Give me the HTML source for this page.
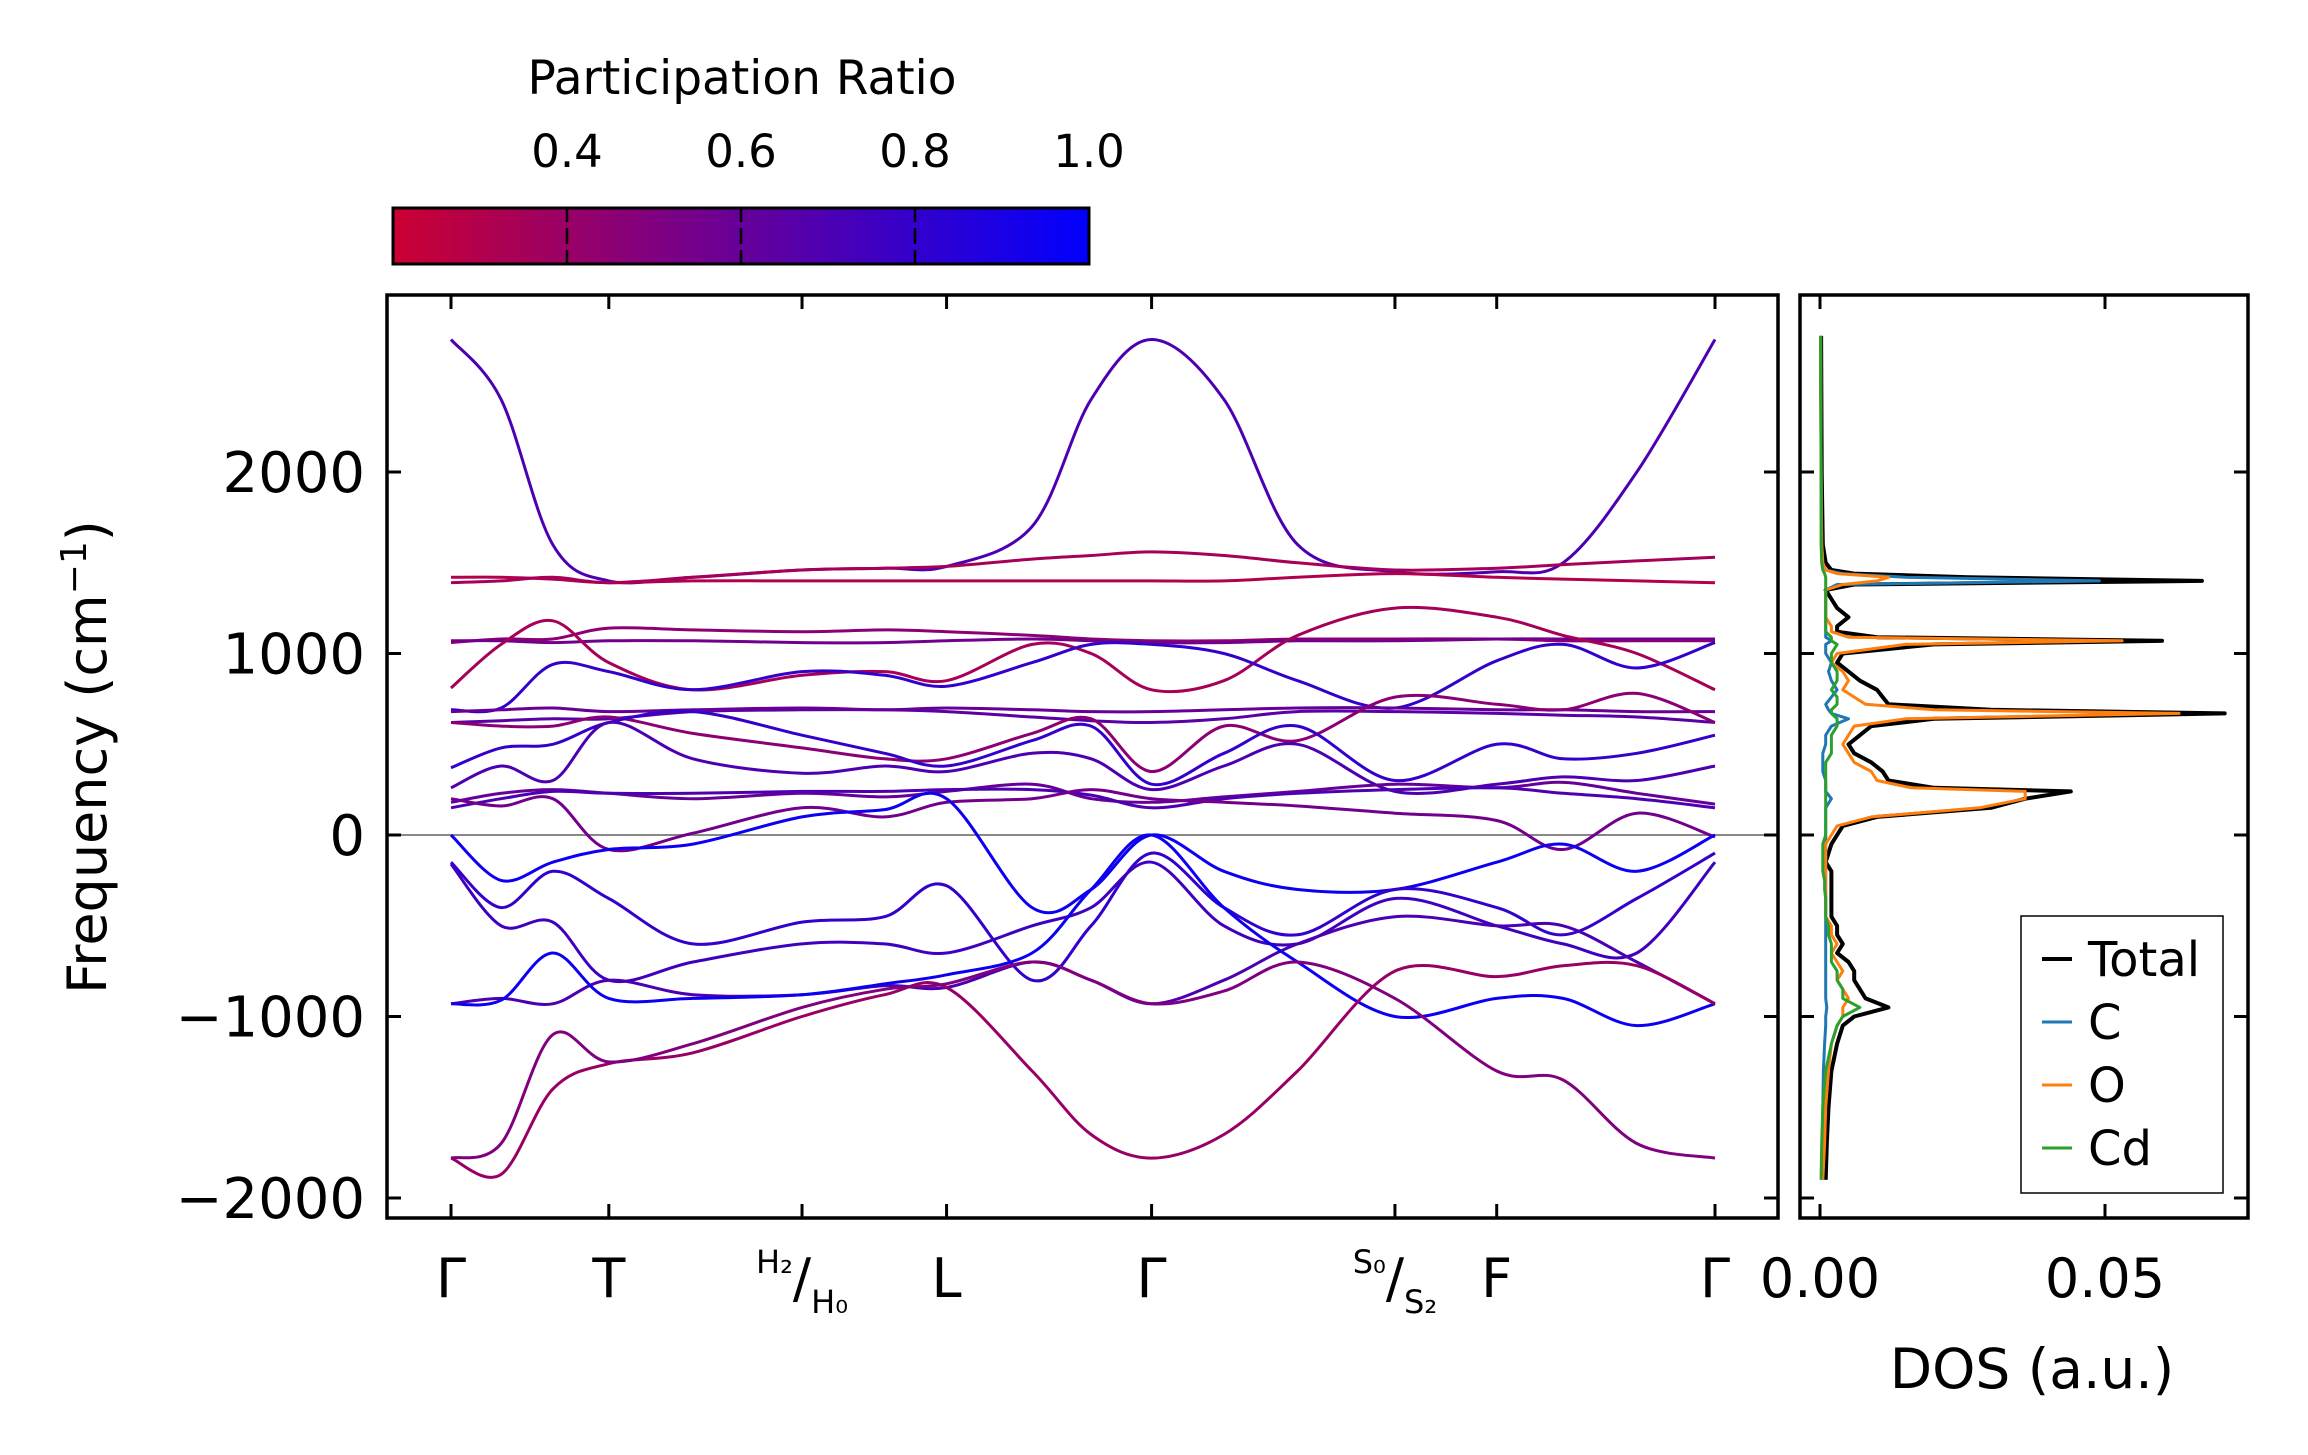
<!DOCTYPE html>
<html><head><meta charset="utf-8">
<style>
html,body{margin:0;padding:0;background:#fff;}
svg{display:block;font-family:"DejaVu Sans","Liberation Sans",sans-serif;}
</style></head>
<body>
<svg id="fig" width="2308" height="1455" viewBox="0 0 2308 1455" xmlns="http://www.w3.org/2000/svg">
<defs>
<linearGradient id="cbgrad" x1="0" x2="1" y1="0" y2="0">
<stop offset="0" stop-color="rgb(204,0,51)"/>
<stop offset="1" stop-color="rgb(0,0,255)"/>
</linearGradient>
<clipPath id="mainclip"><rect x="387" y="295" width="1391" height="923"/></clipPath>
<clipPath id="dosclip"><rect x="1800" y="295" width="448" height="923"/></clipPath>
</defs>
<g id="colorbar">
<text x="742" y="94" font-size="47" text-anchor="middle">Participation Ratio</text>
<rect x="393" y="208" width="696" height="56" fill="url(#cbgrad)" stroke="#000" stroke-width="3"/>
</g>
<g id="bands" clip-path="url(#mainclip)"></g>
<g id="dos" clip-path="url(#dosclip)"></g>
<g id="axes"></g>
<text transform="translate(106,757) rotate(-90)" font-size="54" text-anchor="middle">Frequency (cm<tspan font-size="36" dy="-20">−1</tspan><tspan dy="20">)</tspan></text>
<text x="2032" y="1388" font-size="55" text-anchor="middle">DOS (a.u.)</text>
<g id="legend">
<rect x="2021" y="916" width="202" height="277" fill="#fff" stroke="#000" stroke-width="1.5"/>
</g>
</svg>
<script>
// ---- band structure data ----
const kLabels = ["Γ","T","H","L","Γ","S","F","Γ"];
const kPos = [0,3,5,7,10,13,14,17]; // sample-index of high-symmetry points
const kSampleX = [0,34,69,107,164,238,294,336,394,434,475,524,574,640,709,754,804,857]; // path distance (display units)
const yTicks = [-2000,-1000,0,1000,2000];
const bandPR = [0.7,0.3,0.35,0.45,0.55,0.35,0.8,0.65,0.6,0.45,0.8,0.7,0.6,0.7,0.55,0.95,0.8,0.75,0.7,0.95,0.4,0.5];
const band01 = [2730,2400,1600,1400,1420,1460,1470,1480,1700,2400,2730,2400,1600,1450,1450,1500,2000,2730];
const band02 = [1420,1420,1410,1390,1400,1400,1400,1400,1400,1400,1400,1400,1420,1440,1420,1410,1400,1390];
const band03 = [1390,1400,1420,1390,1420,1460,1470,1480,1520,1540,1560,1540,1500,1460,1470,1490,1510,1530];
const band04 = [1060,1080,1080,1140,1130,1120,1130,1120,1100,1080,1070,1070,1080,1080,1080,1070,1070,1070];
const band05 = [1070,1070,1060,1070,1070,1060,1060,1070,1080,1070,1060,1060,1070,1070,1080,1080,1080,1080];
const band06 = [810,1050,1180,950,800,880,900,850,1050,1000,800,850,1100,1250,1200,1100,1000,800];
const band07 = [690,700,940,900,800,900,880,820,950,1050,1050,1000,850,700,960,1050,920,1060];
const band08 = [620,630,640,640,680,690,690,680,650,630,620,640,680,680,670,660,650,620];
const band09 = [680,690,700,680,690,700,690,700,690,680,680,690,700,700,690,690,680,680];
const band10 = [620,600,600,650,560,480,420,420,560,640,350,600,520,760,720,690,780,620];
const band11 = [370,480,500,620,680,550,450,380,520,600,280,450,600,300,500,420,450,550];
const band12 = [260,380,300,620,420,340,380,350,450,420,250,380,500,240,280,320,300,380];
const band13 = [180,230,250,230,200,230,210,240,280,200,180,210,240,280,260,290,230,170];
const band14 = [150,200,240,230,230,240,240,250,250,220,150,200,230,250,260,230,200,150];
const band15 = [200,160,200,-80,10,150,100,180,200,250,200,180,160,120,80,-80,120,-10];
const band16 = [0,-250,-150,-80,-50,100,140,200,-400,-300,0,-200,-300,-300,-150,-50,-200,0];
const band17 = [-150,-400,-200,-350,-600,-480,-450,-280,-800,-500,-100,-400,-550,-300,-400,-550,-350,-100];
const band18 = [-160,-500,-480,-800,-700,-600,-600,-650,-500,-400,-150,-500,-600,-350,-500,-600,-650,-150];
const band19 = [-930,-900,-930,-800,-880,-880,-830,-840,-700,-800,-930,-800,-600,-450,-500,-500,-700,-930];
const band20 = [-930,-910,-650,-900,-900,-880,-820,-770,-650,-300,0,-400,-700,-1000,-900,-900,-1050,-930];
const band21 = [-1780,-1870,-1400,-1260,-1200,-1000,-880,-840,-1300,-1650,-1780,-1650,-1300,-750,-780,-720,-720,-930];
const band22 = [-1780,-1700,-1100,-1250,-1150,-950,-850,-820,-700,-800,-930,-860,-700,-900,-1300,-1350,-1700,-1780];
const bands = [band01,band02,band03,band04,band05,band06,band07,band08,band09,band10,band11,band12,band13,band14,band15,band16,band17,band18,band19,band20,band21,band22];

// ---- DOS data ----
const dosFreq = [-1900,-1700,-1500,-1300,-1150,-1050,-1000,-950,-900,-850,
 -800,-750,-700,-650,-600,-550,-500,-450,-400,-350,
 -300,-250,-200,-150,-100,-50,0,50,100,150,
 200,240,260,300,350,400,450,500,550,600,
 640,670,690,720,760,800,850,900,950,1000,
 1050,1070,1090,1120,1150,1200,1250,1300,1350,1380,
 1400,1420,1440,1460,1500,1600,2000,2750];
const dosTotal = [0.001,0.0012,0.0015,0.002,0.003,0.004,0.006,0.012,0.008,0.007,
 0.006,0.006,0.005,0.003,0.004,0.003,0.003,0.002,0.002,0.002,
 0.002,0.002,0.002,0.001,0.0015,0.002,0.003,0.004,0.01,0.03,
 0.036,0.044,0.02,0.012,0.011,0.009,0.006,0.005,0.007,0.009,
 0.02,0.071,0.03,0.012,0.011,0.010,0.007,0.005,0.003,0.004,
 0.02,0.060,0.01,0.003,0.003,0.005,0.003,0.002,0.001,0.006,
 0.067,0.026,0.006,0.002,0.001,0.0005,0.0003,0.0002];
const dosO = [0.0005,0.0008,0.001,0.0015,0.002,0.003,0.004,0.004,0.005,0.004,
 0.003,0.004,0.003,0.002,0.003,0.002,0.002,0.001,0.001,0.001,
 0.001,0.001,0.001,0.001,0.001,0.001,0.002,0.003,0.009,0.028,
 0.036,0.036,0.016,0.010,0.009,0.006,0.005,0.004,0.005,0.006,
 0.015,0.063,0.02,0.008,0.006,0.004,0.005,0.004,0.002,0.003,
 0.015,0.053,0.005,0.002,0.002,0.001,0.001,0.001,0.001,0.004,
 0.01,0.012,0.003,0.001,0.0005,0.0003,0.0002,0.0001];
const dosC = [0.0003,0.0004,0.0005,0.0006,0.0008,0.001,0.001,0.0012,0.001,0.001,
 0.001,0.001,0.001,0.001,0.001,0.001,0.001,0.001,0.001,0.001,
 0.001,0.001,0.001,0.001,0.001,0.001,0.001,0.001,0.001,0.001,
 0.002,0.001,0.001,0.001,0.0005,0.0005,0.0005,0.001,0.001,0.002,
 0.005,0.002,0.0015,0.001,0.002,0.003,0.002,0.0015,0.002,0.001,
 0.001,0.002,0.001,0.001,0.001,0.001,0.001,0.001,0.001,0.003,
 0.049,0.015,0.004,0.001,0.0005,0.0003,0.0002,0.0001];
const dosCd = [0.0002,0.0003,0.0005,0.001,0.002,0.003,0.004,0.007,0.004,0.004,
 0.003,0.003,0.002,0.002,0.002,0.0015,0.0015,0.001,0.001,0.001,
 0.0008,0.0008,0.0005,0.0005,0.0005,0.0005,0.001,0.001,0.001,0.001,
 0.001,0.001,0.001,0.001,0.001,0.001,0.002,0.002,0.002,0.003,
 0.003,0.002,0.002,0.003,0.003,0.002,0.003,0.003,0.002,0.002,
 0.003,0.002,0.002,0.001,0.001,0.001,0.001,0.001,0.001,0.001,
 0.001,0.001,0.0008,0.0005,0.0003,0.0002,0.0002,0.0001];
const dosTicks = [0.00,0.05];
const cbTicks = [0.4,0.6,0.8,1.0];

const NS = "http://www.w3.org/2000/svg";
function mk(tag, attrs, parent){const e=document.createElementNS(NS,tag);for(const k in attrs)e.setAttribute(k,attrs[k]);parent.appendChild(e);return e;}

// scales
const MX0=387, MX1=1778, PY0=295, PY1=1218, DX0=1800, DX1=2248;
function yScale(f){return 835 - f*0.1815;}
function xScale(d){return 451 + d*(1715-451)/857;}
function dScale(v){return 1820 + v*5700;}
function cbScale(p){return 393 + (p-0.2)/0.8*696;}
function prColor(p){const t=Math.max(0,Math.min(1,(p-0.2)/0.8));return `rgb(${Math.round(204*(1-t))},0,${Math.round(51+204*t)})`;}

function smoothPath(pts){
  let d=`M${pts[0][0].toFixed(1)},${pts[0][1].toFixed(1)}`;
  for(let i=0;i<pts.length-1;i++){
    const p0=pts[Math.max(0,i-1)],p1=pts[i],p2=pts[i+1],p3=pts[Math.min(pts.length-1,i+2)];
    const c1=[p1[0]+(p2[0]-p0[0])/6,p1[1]+(p2[1]-p0[1])/6];
    const c2=[p2[0]-(p3[0]-p1[0])/6,p2[1]-(p3[1]-p1[1])/6];
    d+=`C${c1[0].toFixed(1)},${c1[1].toFixed(1)} ${c2[0].toFixed(1)},${c2[1].toFixed(1)} ${p2[0].toFixed(1)},${p2[1].toFixed(1)}`;
  }
  return d;
}

const gB=document.getElementById('bands');
const zl=mk('line',{x1:MX0,x2:MX1,y1:yScale(0),y2:yScale(0),stroke:'#888','stroke-width':2},gB);


bands.forEach((b,i)=>{
  const pts=b.map((f,j)=>[xScale(kSampleX[j]),yScale(f)]);
  const p=mk('path',{d:smoothPath(pts),fill:'none',stroke:prColor(bandPR[i]),'stroke-width':3},gB);
  
  
});

const gD=document.getElementById('dos');
[[dosTotal,'#000',4,'dos-total'],[dosC,'#1f77b4',3,'dos-c'],[dosO,'#ff7f0e',3,'dos-o'],[dosCd,'#2ca02c',3,'dos-cd']].forEach(s=>{
  const pts=s[0].map((v,j)=>`${dScale(v).toFixed(1)},${yScale(dosFreq[j]).toFixed(1)}`).join(' ');
  const pl=mk('polyline',{points:pts,fill:'none',stroke:s[1],'stroke-width':s[2],'stroke-linejoin':'round'},gD);
  
  
});

const gA=document.getElementById('axes');
const f1=mk('rect',{x:MX0,y:PY0,width:MX1-MX0,height:PY1-PY0,fill:'none',stroke:'#000','stroke-width':3.5},gA);


const f2=mk('rect',{x:DX0,y:PY0,width:DX1-DX0,height:PY1-PY0,fill:'none',stroke:'#000','stroke-width':3.5},gA);


yTicks.forEach(t=>{
  const y=yScale(t);
  [[MX0,MX0+14],[MX1-14,MX1],[DX0,DX0+14],[DX1-14,DX1]].forEach(s=>mk('line',{x1:s[0],x2:s[1],y1:y,y2:y,stroke:'#000','stroke-width':3},gA));
  const tx=mk('text',{x:MX0-22,y:y+20,'font-size':56,'text-anchor':'end'},gA);
  tx.textContent=t<0?'−'+Math.abs(t):String(t);
  
  
});
kPos.forEach((ki,i)=>{
  const x=xScale(kSampleX[ki]);
  mk('line',{x1:x,x2:x,y1:PY0,y2:PY0+14,stroke:'#000','stroke-width':3},gA);
  mk('line',{x1:x,x2:x,y1:PY1-14,y2:PY1,stroke:'#000','stroke-width':3},gA);
  const tx=mk('text',{x:x,y:1297,'font-size':54,'text-anchor':'middle'},gA);
  if(kLabels[i]==='H'){
    tx.innerHTML='<tspan font-size="32" dy="-24">H₂</tspan><tspan dy="24">/</tspan><tspan font-size="32" dy="16">H₀</tspan>';
  } else if(kLabels[i]==='S'){
    tx.innerHTML='<tspan font-size="32" dy="-24">S₀</tspan><tspan dy="24">/</tspan><tspan font-size="32" dy="16">S₂</tspan>';
  } else {
    tx.textContent=kLabels[i];
  }
  
  
});
dosTicks.forEach(t=>{
  const x=dScale(t);
  mk('line',{x1:x,x2:x,y1:PY0,y2:PY0+14,stroke:'#000','stroke-width':3},gA);
  mk('line',{x1:x,x2:x,y1:PY1-14,y2:PY1,stroke:'#000','stroke-width':3},gA);
  const tx=mk('text',{x:x,y:1297,'font-size':54,'text-anchor':'middle'},gA);
  tx.textContent=t.toFixed(2);
  
  
});
const gC=document.getElementById('colorbar');
cbTicks.forEach(t=>{
  const x=cbScale(t);
  if(t<1.0){
    mk('line',{x1:x,x2:x,y1:208,y2:222,stroke:'#000','stroke-width':2.5},gC);
    mk('line',{x1:x,x2:x,y1:250,y2:264,stroke:'#000','stroke-width':2.5},gC);
    mk('line',{x1:x,x2:x,y1:228,y2:244,stroke:'#000','stroke-width':2.5},gC);
  }
  const tx=mk('text',{x:x,y:167,'font-size':45,'text-anchor':'middle'},gC);
  tx.textContent=t.toFixed(1);
  
  
});
const gL=document.getElementById('legend');
[['Total','#000'],['C','#1f77b4'],['O','#ff7f0e'],['Cd','#2ca02c']].forEach((e,i)=>{
  const y=959+i*63;
  const ln=mk('line',{x1:2042,x2:2072,y1:y,y2:y,stroke:e[1],'stroke-width':e[0]==='Total'?4:3},gL);
  
  
  const tx=mk('text',{x:2088,y:y+17,'font-size':48},gL);
  tx.textContent=e[0];
  
  
});
</script>
</body></html>
